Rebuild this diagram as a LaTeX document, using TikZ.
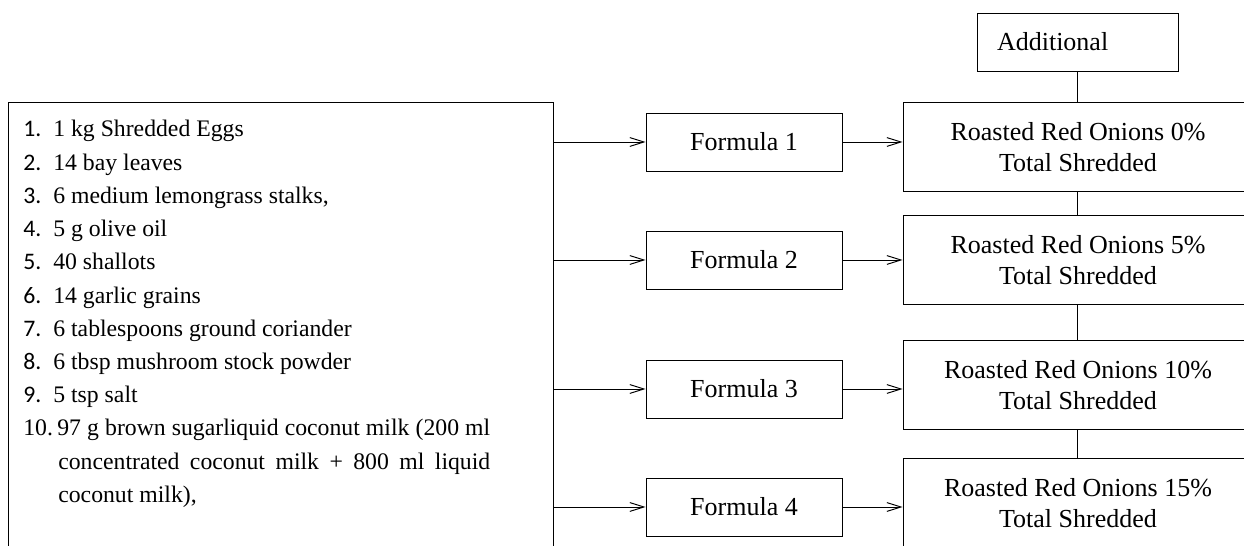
\documentclass[tikz,border=0pt]{standalone}
\usepackage{fontspec}
\setmainfont{Liberation Serif}
\newfontfamily\numfont{Carlito}
\usetikzlibrary{arrows.meta, positioning}

\tikzset{
  box/.style={draw, rectangle, line width=0.55pt, inner sep=0pt},
  formula/.style={box, minimum width=3.92cm, minimum height=1.16cm},
  result/.style={box, minimum width=7cm, minimum height=1.78cm, align=center},
  link/.style={line width=0.55pt},
}

\begin{document}
\begin{tikzpicture}[x=0.02cm, y=-0.02cm, >={Straight Barb[length=8pt,width=5pt]}, font=\fontsize{14.8}{17.6}\selectfont]
  \useasboundingbox (0,0) rectangle (1244,546);
  \clip (0,0) rectangle (1244,546);

  % ingredient list
  \node[box, minimum width=10.92cm, minimum height=9.16cm] (ingr) at (281,331) {};
  \node[anchor=base west, inner sep=0pt, font=\fontsize{13.5}{18.9}\selectfont] (list) at (23,137) {\parbox[t]{9.34cm}{%
    \setlength{\parindent}{0pt}%
    \makebox[0.6cm][l]{\numfont 1.}1 kg Shredded Eggs\par
    \makebox[0.6cm][l]{\numfont 2.}14 bay leaves\par
    \makebox[0.6cm][l]{\numfont 3.}6 medium lemongrass stalks,\par
    \makebox[0.6cm][l]{\numfont 4.}5 g olive oil\par
    \makebox[0.6cm][l]{\numfont 5.}40 shallots\par
    \makebox[0.6cm][l]{\numfont 6.}14 garlic grains\par
    \makebox[0.6cm][l]{\numfont 7.}6 tablespoons ground coriander\par
    \makebox[0.6cm][l]{\numfont 8.}6 tbsp mushroom stock powder\par
    \makebox[0.6cm][l]{\numfont 9.}5 tsp salt\par
    \hangindent=0.7cm \hangafter=1
    \makebox[0.68cm][l]{10.}97 g brown sugarliquid coconut milk (200 ml\linebreak
    concentrated coconut milk + 800 ml liquid\linebreak
    coconut milk),\par}};

  % formulas
  \node[formula] (f1) at (744,142) {Formula 1};
  \node[formula] (f2) at (744,260) {Formula 2};
  \node[formula] (f3) at (744,389) {Formula 3};
  \node[formula] (f4) at (744,507) {Formula 4};

  % results
  \node[result] (r1) at (1078,147) {Roasted Red Onions 0\%\\Total Shredded};
  \node[result] (r2) at (1078,260) {Roasted Red Onions 5\%\\Total Shredded};
  \node[result] (r3) at (1078,385) {Roasted Red Onions 10\%\\Total Shredded};
  \node[result] (r4) at (1078,503) {Roasted Red Onions 15\%\\Total Shredded};

  \node[box, minimum height=1.16cm, text width=3.22cm, align=left, inner xsep=0.4cm] (add) at (1077.5,42) {Additional};

  \foreach \i in {1,...,4} {
    \draw[->, link] (ingr.east |- f\i) -- (f\i.west);
    \draw[->, link] (f\i.east) -- (r\i.west |- f\i);
  }
  \draw[link] (add.south) -- (add.south |- r1.north);
  \draw[link] (r1.south -| add.south) -- (r2.north -| add.south);
  \draw[link] (r2.south -| add.south) -- (r3.north -| add.south);
  \draw[link] (r3.south -| add.south) -- (r4.north -| add.south);
\end{tikzpicture}
\end{document}
